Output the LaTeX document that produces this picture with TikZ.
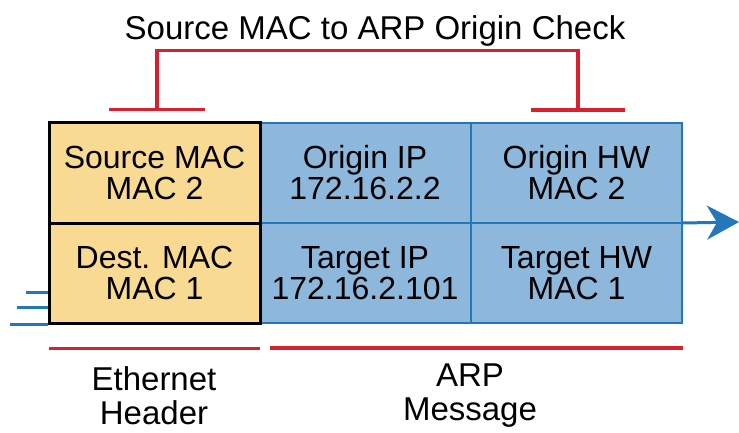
\documentclass[tikz,border=0pt]{standalone}
\usepackage{fontspec}
\setmainfont{Liberation Sans}
\usepackage{tikz}
\usetikzlibrary{arrows.meta, positioning}
\definecolor{Crema}{RGB}{248, 218, 146}
\definecolor{Celeste}{RGB}{141, 184, 219}
\definecolor{Azul}{RGB}{36, 119, 184}
\definecolor{Rojo}{RGB}{214, 34, 46}

\begin{document}
\begin{tikzpicture}[x=1pt, y=1pt,
        hdr/.style={rectangle, draw=black, fill=Crema, line width=3pt, minimum width=211pt, minimum height=100pt, align=center, inner sep=0pt, font=\fontsize{32}{32}\selectfont},
        arp/.style={rectangle, draw=Azul, fill=Celeste, line width=2pt, minimum width=211pt, minimum height=100pt, align=center, inner sep=0pt, font=\fontsize{32}{32}\selectfont},
        lbl/.style={align=center, inner sep=0pt, font=\fontsize{33}{34}\selectfont},
        chk/.style={draw=Rojo, line width=3.3pt},
        wire/.style={draw=Azul, line width=2.6pt},
        flow/.style={draw=Azul, line width=3pt, -{Stealth[length=32pt, width=34pt, inset=10pt]}}
    ]%
        \useasboundingbox (0,0) rectangle (739,432);
        % ================= MENSAJE ARP (CELDAS AZULES) =================
        \node[arp] (originip) at (365, 259) {Origin IP\\[-1pt]172.16.2.2};
        \node[arp] (targetip) at (365, 159) {Target IP\\[-1pt]172.16.2.101};
        \node[arp] (originhw) at (576.5, 259) {Origin HW\\[-1pt]MAC 2};
        \node[arp] (targethw) at (576.5, 159) {Target HW\\[-1pt]MAC 1};
        % ================= CABECERA ETHERNET (CELDAS AMARILLAS) =================
        \node[hdr] (srcmac) at (154.5, 259) {Source MAC\\[-1pt]MAC 2};
        \node[hdr] (dstmac) at (154.5, 159) {Dest. MAC\\[-1pt]MAC 1};
        % ================= TRAMA EN MOVIMIENTO =================
        \coordinate (wireout) at (739, 210);
        \draw[flow] ([yshift=1pt]originhw.south east) -- (wireout);
        \draw[wire] (dstmac.south west) -- ++(-38, 0);
        \draw[wire] ([yshift=17pt]dstmac.south west) -- ++(-31, 0);
        \draw[wire] ([yshift=32pt]dstmac.south west) -- ++(-22, 0);
        % ================= COMPROBACION MAC ORIGEN / ARP ORIGEN =================
        \node[lbl] (title) at (375, 401) {Source MAC to ARP Origin Check};
        \coordinate (chkL) at ([xshift=2.5pt, yshift=12pt]srcmac.north);
        \coordinate (chkR) at ([xshift=1.5pt, yshift=12pt]originhw.north);
        \draw[chk] (chkL) -- ++(0, 59) -| (chkR);
        \draw[chk] ([xshift=-48pt]chkL) -- ([xshift=48pt]chkL);
        \draw[chk] ([xshift=-47pt]chkR) -- ([xshift=47pt]chkR);
        % ================= ETIQUETAS INFERIORES =================
        \draw[chk] ([xshift=1pt, yshift=-24pt]dstmac.south west) -- ([xshift=-2pt, yshift=-24pt]dstmac.south east);
        \draw[chk] ([xshift=11pt, yshift=-24pt]targetip.south west) -- ([yshift=-24pt]targethw.south east);
        \node[lbl] (ethlbl) at (154, 36) {Ethernet\\Header};
        \node[lbl] (arplbl) at (470, 36) {ARP\\Message};
    \end{tikzpicture}
\end{document}
